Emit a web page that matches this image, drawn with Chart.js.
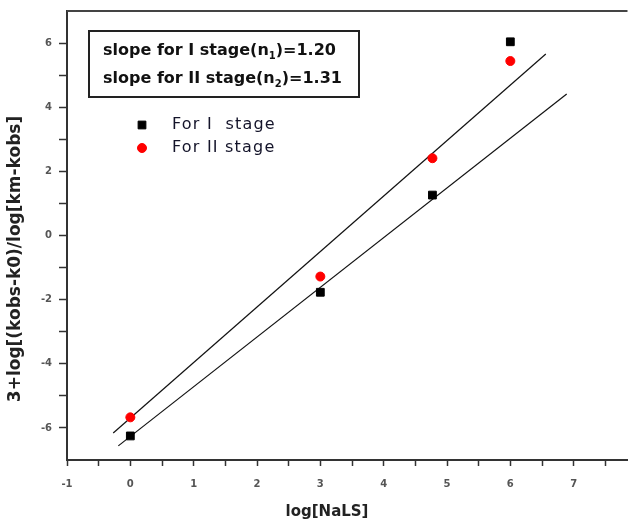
<!DOCTYPE html>
<html>
<head>
<meta charset="utf-8">
<script src="https://cdn.jsdelivr.net/npm/chart.js@4.4.0/dist/chart.umd.min.js"></script>
<style>
  html, body { margin: 0; padding: 0; background: #fff; overflow: hidden; }
</style>
</head>
<body>
<canvas id="plot" width="634" height="524"></canvas>
<script>
// values
const xValues = [0, 3, 4.77, 6.0];
const stageOne = [-6.25, -1.77, 1.26, 6.04];
const stageTwo = [-5.67, -1.28, 2.41, 5.44];

// end points of the two fitted lines
const fitOneX = [-0.19, 6.89];
const fitOneY = [-6.56, 4.41];
const fitTwoX = [-0.27, 6.56];
const fitTwoY = [-6.16, 5.66];

const xTickLabels = [-1, 0, 1, 2, 3, 4, 5, 6, 7];
const yTickLabels = [-6, -4, -2, 0, 2, 4, 6];

const seriesNames = ['For I  stage', 'For II stage'];
const slopeNotes = [
    ['slope for I stage(n', '1', ')=1.20'],
    ['slope for II stage(n', '2', ')=1.31']
];
const xTitle = 'log[NaLS]';
const yTitle = '3+log[(kobs-k0)/log[km-kobs]';

function toPoints(xs, ys) {
    return xs.map((x, i) => ({ x: x, y: ys[i] }));
}

const tickFont = { family: '"DejaVu Sans"', size: 10, weight: 'bold' };

// frame top line, titles, slope box and legend
const extras = {
    id: 'extras',
    afterDraw(chart) {
        const ctx = chart.ctx;
        const area = chart.chartArea;
        ctx.save();

        ctx.strokeStyle = '#444';
        ctx.lineWidth = 2;
        ctx.beginPath();
        ctx.moveTo(area.left, area.top);
        ctx.lineTo(area.right, area.top);
        ctx.stroke();

        // axis titles
        ctx.fillStyle = '#222';
        ctx.font = 'bold 15px "DejaVu Sans"';
        ctx.textAlign = 'center';
        ctx.textBaseline = 'middle';
        ctx.fillText(xTitle, 327, 512);
        ctx.save();
        ctx.translate(16, 259);
        ctx.rotate(-Math.PI / 2);
        ctx.font = 'bold 17px "DejaVu Sans"';
        ctx.fillText(yTitle, 0, 0);
        ctx.restore();

        // slope box
        ctx.strokeStyle = '#222';
        ctx.lineWidth = 2;
        ctx.strokeRect(89, 31, 270, 66);
        ctx.textAlign = 'left';
        ctx.textBaseline = 'alphabetic';
        ctx.fillStyle = '#111';
        slopeNotes.forEach((parts, i) => {
            const y = 55 + i * 28;
            let x = 103;
            ctx.font = 'bold 16px "DejaVu Sans"';
            ctx.fillText(parts[0], x, y);
            x += ctx.measureText(parts[0]).width;
            ctx.font = 'bold 10px "DejaVu Sans"';
            ctx.fillText(parts[1], x, y + 4);
            x += ctx.measureText(parts[1]).width;
            ctx.font = 'bold 16px "DejaVu Sans"';
            ctx.fillText(parts[2], x, y);
        });

        // legend
        ctx.font = '16px "DejaVu Sans"';
        ctx.letterSpacing = '1.2px';
        ctx.textBaseline = 'middle';
        [0, 1].forEach(i => {
            const ds = chart.data.datasets[i];
            const y = 125 + i * 23;
            ctx.fillStyle = ds.backgroundColor;
            ctx.strokeStyle = ds.borderColor;
            ctx.lineWidth = 1;
            Chart.helpers.drawPoint(ctx, {
                pointStyle: ds.pointStyle,
                radius: ds.pointRadius,
                rotation: 0,
                borderWidth: 1
            }, 142, y);
            ctx.fillStyle = '#14142a';
            ctx.fillText(seriesNames[i], 172, y);
        });

        ctx.restore();
    }
};

new Chart(document.getElementById('plot'), {
    type: 'scatter',
    data: {
        datasets: [
            {
                label: seriesNames[0],
                data: toPoints(xValues, stageOne),
                pointStyle: 'rect',
                pointRadius: 5.5,
                backgroundColor: '#000000',
                borderColor: '#000000',
                borderWidth: 1
            },
            {
                label: seriesNames[1],
                data: toPoints(xValues, stageTwo),
                pointStyle: 'circle',
                pointRadius: 4.5,
                backgroundColor: '#ff0000',
                borderColor: '#ff0000',
                borderWidth: 1
            },
            {
                label: 'fit I',
                data: toPoints(fitOneX, fitOneY),
                showLine: true,
                pointRadius: 0,
                borderColor: '#111',
                borderWidth: 1.2
            },
            {
                label: 'fit II',
                data: toPoints(fitTwoX, fitTwoY),
                showLine: true,
                pointRadius: 0,
                borderColor: '#111',
                borderWidth: 1.2
            }
        ]
    },
    options: {
        responsive: false,
        animation: false,
        layout: { padding: { top: 11, right: 0, bottom: 0, left: 0 } },
        plugins: {
            legend: { display: false },
            tooltip: { enabled: false }
        },
        scales: {
            x: {
                type: 'linear',
                min: -1,
                max: 7.85,
                afterFit: s => { s.height = 64; s.paddingLeft = 0; s.paddingRight = 0; },
                border: { display: true, color: '#333', width: 2 },
                grid: { drawOnChartArea: false, drawTicks: true, tickLength: 6, tickWidth: 1.5, tickColor: '#333' },
                ticks: {
                    stepSize: 0.5,
                    includeBounds: false,
                    autoSkip: false,
                    maxRotation: 0,
                    padding: 12,
                    color: '#555',
                    font: tickFont,
                    callback: v => xTickLabels.includes(v) ? String(v) : ''
                }
            },
            y: {
                min: -7,
                max: 7,
                afterFit: s => { s.width = 67; s.paddingTop = 0; s.paddingBottom = 0; },
                border: { display: true, color: '#333', width: 2 },
                grid: {
                    drawOnChartArea: false,
                    drawTicks: true,
                    tickLength: 8,
                    tickWidth: 1.5,
                    tickColor: c => (c.tick && Math.abs(c.tick.value) === 7) ? 'rgba(0,0,0,0)' : '#333'
                },
                ticks: {
                    stepSize: 1,
                    autoSkip: false,
                    padding: 7,
                    color: '#555',
                    font: tickFont,
                    callback: v => yTickLabels.includes(v) ? String(v) : ''
                }
            }
        }
    },
    plugins: [extras]
});
</script>
</body>
</html>
